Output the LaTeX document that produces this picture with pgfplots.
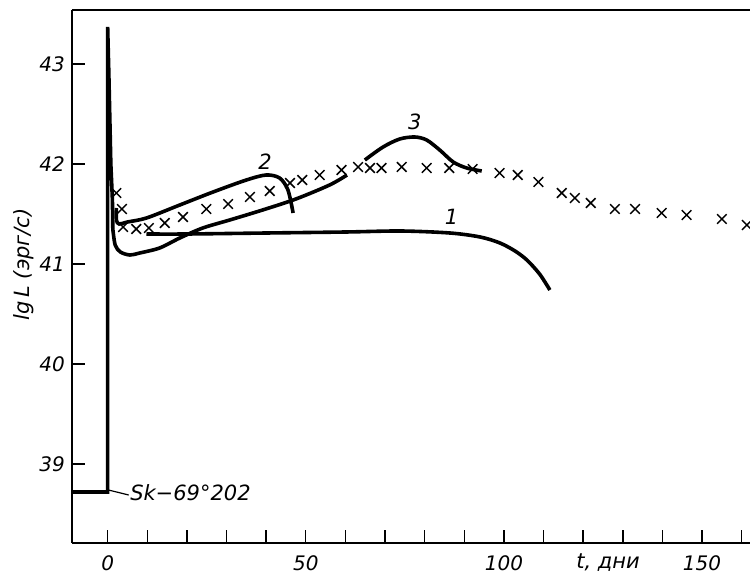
\documentclass[border=0pt]{standalone}
\usepackage{fontspec}
\setmainfont{DejaVu Sans}
\usepackage{pgfplots}
\pgfplotsset{compat=1.18}
\begin{document}
\begin{tikzpicture}
\begin{axis}[
 scale only axis, width=339pt, height=266.5pt,
 xmin=-9, xmax=162.1, ymin=38.21, ymax=43.54,
 axis x line*=bottom, axis y line*=left,
 axis line style={line width=0.8pt},
 tick align=inside,
 xtick={0,10,20,30,40,50,60,70,80,90,100,110,120,130,140,150,160},
 xticklabels={0,,,,,50,,,,,100,,,,,150,},
 ytick={39,40,41,42,43},
 major tick length=6.5pt,
 xtick style={line width=0.7pt, black},
 ytick style={line width=0.7pt, black},
 every tick label/.append style={font=\fontsize{10}{12}\selectfont\itshape},
 /pgf/number format/assume math mode=true,
 xticklabel style={yshift=-3pt},
 clip=false,
]
\coordinate (SW) at (rel axis cs:0,0);
\coordinate (NE) at (rel axis cs:1,1);
\draw[line width=0.8pt] (rel axis cs:0,1) -- (rel axis cs:1,1);

% SN light curve spike
\addplot[black, line width=1.8pt, sharp plot] coordinates {
(-9,38.72) (0,38.72) (0,43.37) (0.3,42.9) (0.8,42.0) (1.2,41.64) (1.3,41.35)};
% lower U curve
\addplot[black, line width=1.8pt, smooth, tension=0.5] coordinates {
(1.3,41.35) (1.9,41.19) (3.2,41.12) (5.6,41.09) (8.1,41.11) (13.1,41.16) (18.2,41.26)
(24,41.36) (30.8,41.44) (39.1,41.54) (47.5,41.65) (56,41.79) (60.4,41.89)};
% curve 2
\addplot[black, line width=1.8pt, smooth, tension=0.5] coordinates {
(2.2,41.56) (2.2,41.44) (2.9,41.40) (5,41.42) (9.8,41.46) (18.2,41.59) (26.6,41.72)
(35,41.84) (40,41.89) (43.4,41.86) (45.5,41.74) (46.8,41.51)};
% curve 3 bump
\addplot[black, line width=1.8pt, smooth, tension=0.5] coordinates {
(64.9,42.04) (69.5,42.17) (73.7,42.25) (77.5,42.27) (80.5,42.24) (83.8,42.14)
(87.2,42.02) (90.6,41.96) (94.4,41.93)};
% curve 1
\addplot[black, line width=1.8pt, smooth, tension=0.5] coordinates {
(9.8,41.30) (20,41.30) (40,41.31) (60,41.32) (74,41.33) (86.4,41.31) (94,41.27)
(99,41.21) (102.8,41.13) (105.8,41.04) (109,40.90) (111.6,40.74)};
% observations
\addplot[only marks, mark=x, mark size=3.4pt, mark options={line width=0.75pt, black}] coordinates {
(2.2,41.71) (3.6,41.55) (3.9,41.37) (7.2,41.35) (10.4,41.36) (14.4,41.41) (19,41.47)
(24.9,41.55) (30.4,41.60) (35.9,41.67) (40.9,41.73) (46,41.81) (49.1,41.84) (53.5,41.89)
(59,41.94) (63.2,41.97) (66.2,41.96) (69.1,41.96) (74.2,41.97) (80.5,41.96) (86.2,41.96)
(92.1,41.95) (98.9,41.91) (103.5,41.89) (108.7,41.82) (114.6,41.71) (117.9,41.66)
(121.9,41.61) (128,41.55) (133.1,41.55) (139.8,41.51) (146.1,41.49) (155,41.45) (161.3,41.39)};

\node[font=\fontsize{10.5}{12}\selectfont\itshape] at (axis cs:86.8,41.47) {1};
\node[font=\fontsize{10.5}{12}\selectfont\itshape] at (axis cs:39.7,42.02) {2};
\node[font=\fontsize{10.5}{12}\selectfont\itshape] at (axis cs:77.5,42.42) {3};
\draw[line width=0.6pt] (axis cs:0.2,38.74) -- (axis cs:5.3,38.69);
\node[anchor=west, inner sep=0pt, font=\fontsize{10.5}{12}\selectfont\itshape] at (axis cs:5.6,38.71) {Sk−69°202};
\node[anchor=base, font=\fontsize{10.5}{12}\selectfont\itshape] at ([yshift=-12.9pt]axis cs:126.3,38.21) {t, дни};
\node[rotate=90, font=\fontsize{10.5}{12}\selectfont\itshape] at ([xshift=-24pt]rel axis cs:0,0.523) {lg\,L (эрг/с)};
\end{axis}
\pgfresetboundingbox
\path ([shift={(-36pt,-15.5pt)}]SW) rectangle ([shift={(0pt,5pt)}]NE);
\end{tikzpicture}
\end{document}
